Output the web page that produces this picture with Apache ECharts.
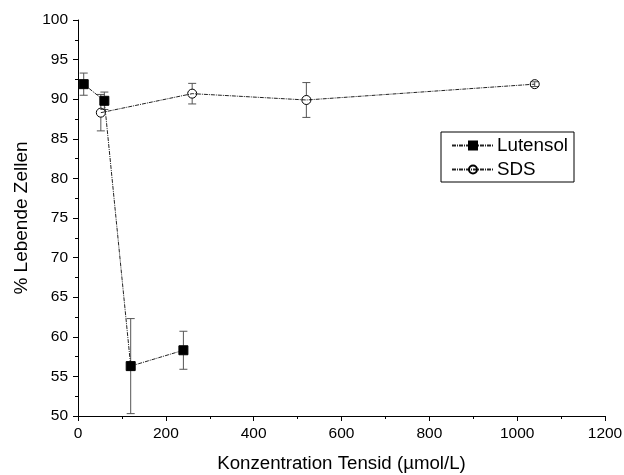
<!DOCTYPE html>
<html>
<head>
<meta charset="utf-8">
<script src="https://cdn.jsdelivr.net/npm/echarts@6/dist/echarts.min.js"></script>
<style>
  html, body { margin: 0; padding: 0; background: #fff; }
  #chart { width: 624px; height: 475px; }
</style>
</head>
<body>
<div id="chart"></div>
<script>
// Werte
var lutX = [13, 60, 120, 240];
var lutY = [91.9, 89.8, 56.3, 58.3];
var lutErr = [1.4, 1.1, 6.0, 2.4];

var sdsX = [52, 260, 520, 1040];
var sdsY = [88.3, 90.7, 89.9, 91.9];
var sdsErr = [2.3, 1.3, 2.2, 0.3];

var font = 'Arial, "Liberation Sans", sans-serif';

function points(xs, ys) {
  var out = [];
  for (var i = 0; i < xs.length; i++) out.push([xs[i], ys[i]]);
  return out;
}
function errors(xs, ys, es) {
  var out = [];
  for (var i = 0; i < xs.length; i++) out.push([xs[i], ys[i], ys[i] - es[i], ys[i] + es[i]]);
  return out;
}

// Fehlerbalken, beginnend am Rand des Symbols
function errorBar(params, api) {
  var c = api.coord([api.value(0), api.value(1)]);
  var lo = api.coord([api.value(0), api.value(2)]);
  var hi = api.coord([api.value(0), api.value(3)]);
  var r = 4.5, w = 4;
  var st = { stroke: '#555', lineWidth: 1 };
  var kids = [
    { type: 'line', shape: { x1: lo[0] - w, y1: lo[1], x2: lo[0] + w, y2: lo[1] }, style: st },
    { type: 'line', shape: { x1: hi[0] - w, y1: hi[1], x2: hi[0] + w, y2: hi[1] }, style: st }
  ];
  if (lo[1] - c[1] > r) {
    kids.push({ type: 'line', shape: { x1: c[0], y1: c[1] + r, x2: lo[0], y2: lo[1] }, style: st });
    kids.push({ type: 'line', shape: { x1: c[0], y1: c[1] - r, x2: hi[0], y2: hi[1] }, style: st });
  } else {
    kids.push({ type: 'line', shape: { x1: c[0], y1: lo[1], x2: c[0], y2: hi[1] }, style: st });
  }
  return { type: 'group', children: kids };
}

var dash = [4, 1, 1, 1];

var chart = echarts.init(document.getElementById('chart'));
chart.setOption({
  animation: false,
  textStyle: { fontFamily: font },
  grid: { left: 78, right: 19, top: 20, bottom: 59, outerBoundsMode: 'none', containLabel: false },
  legend: {
    data: ['Lutensol', 'SDS'],
    orient: 'vertical',
    left: 441,
    top: 132,
    padding: [4, 6, 3, 10],
    itemWidth: 42,
    itemHeight: 10,
    itemGap: 5,
    borderColor: '#000',
    borderWidth: 1,
    textStyle: { fontSize: 18.8, color: '#000', fontFamily: font, padding: [0, 0, 0, -2] }
  },
  xAxis: {
    type: 'value',
    min: 0, max: 1200, interval: 200,
    name: 'Konzentration Tensid (µmol/L)',
    nameLocation: 'middle',
    nameGap: 38,
    nameTextStyle: { fontSize: 18.7, color: '#000' },
    axisLine: { show: true, lineStyle: { color: '#000', width: 1 } },
    axisTick: { show: true, length: 5, lineStyle: { color: '#000' } },
    minorTick: { show: true, splitNumber: 2, length: 3, lineStyle: { color: '#000' } },
    axisLabel: { fontSize: 15.5, color: '#000', margin: 10, formatter: function (v) { return String(v); } },
    splitLine: { show: false }
  },
  yAxis: {
    type: 'value',
    min: 50, max: 100, interval: 5,
    name: '% Lebende Zellen',
    nameLocation: 'middle',
    nameGap: 45,
    nameTextStyle: { fontSize: 19, color: '#000' },
    axisLine: { show: true, lineStyle: { color: '#000', width: 1 } },
    axisTick: { show: true, length: 5, lineStyle: { color: '#000' } },
    minorTick: { show: true, splitNumber: 2, length: 3, lineStyle: { color: '#000' } },
    axisLabel: { fontSize: 15.5, color: '#000', margin: 10 },
    splitLine: { show: false }
  },
  series: [
    {
      name: 'Lutensol-err', type: 'custom', renderItem: errorBar,
      data: errors(lutX, lutY, lutErr), z: 1, clip: false, silent: true
    },
    {
      name: 'SDS-err', type: 'custom', renderItem: errorBar,
      data: errors(sdsX, sdsY, sdsErr), z: 1, clip: false, silent: true
    },
    {
      name: 'Lutensol', type: 'line',
      data: points(lutX, lutY),
      symbol: 'rect', symbolSize: 9,
      lineStyle: { color: '#222', width: 1, type: dash },
      itemStyle: { color: '#000', borderColor: '#000', borderWidth: 1 },
      z: 3
    },
    {
      name: 'SDS', type: 'line',
      data: points(sdsX, sdsY),
      symbol: 'circle', symbolSize: 9,
      lineStyle: { color: '#222', width: 1, type: dash },
      itemStyle: { color: 'rgba(255,255,255,0)', borderColor: '#000', borderWidth: 1 },
      z: 2
    }
  ]
});
</script>
</body>
</html>
